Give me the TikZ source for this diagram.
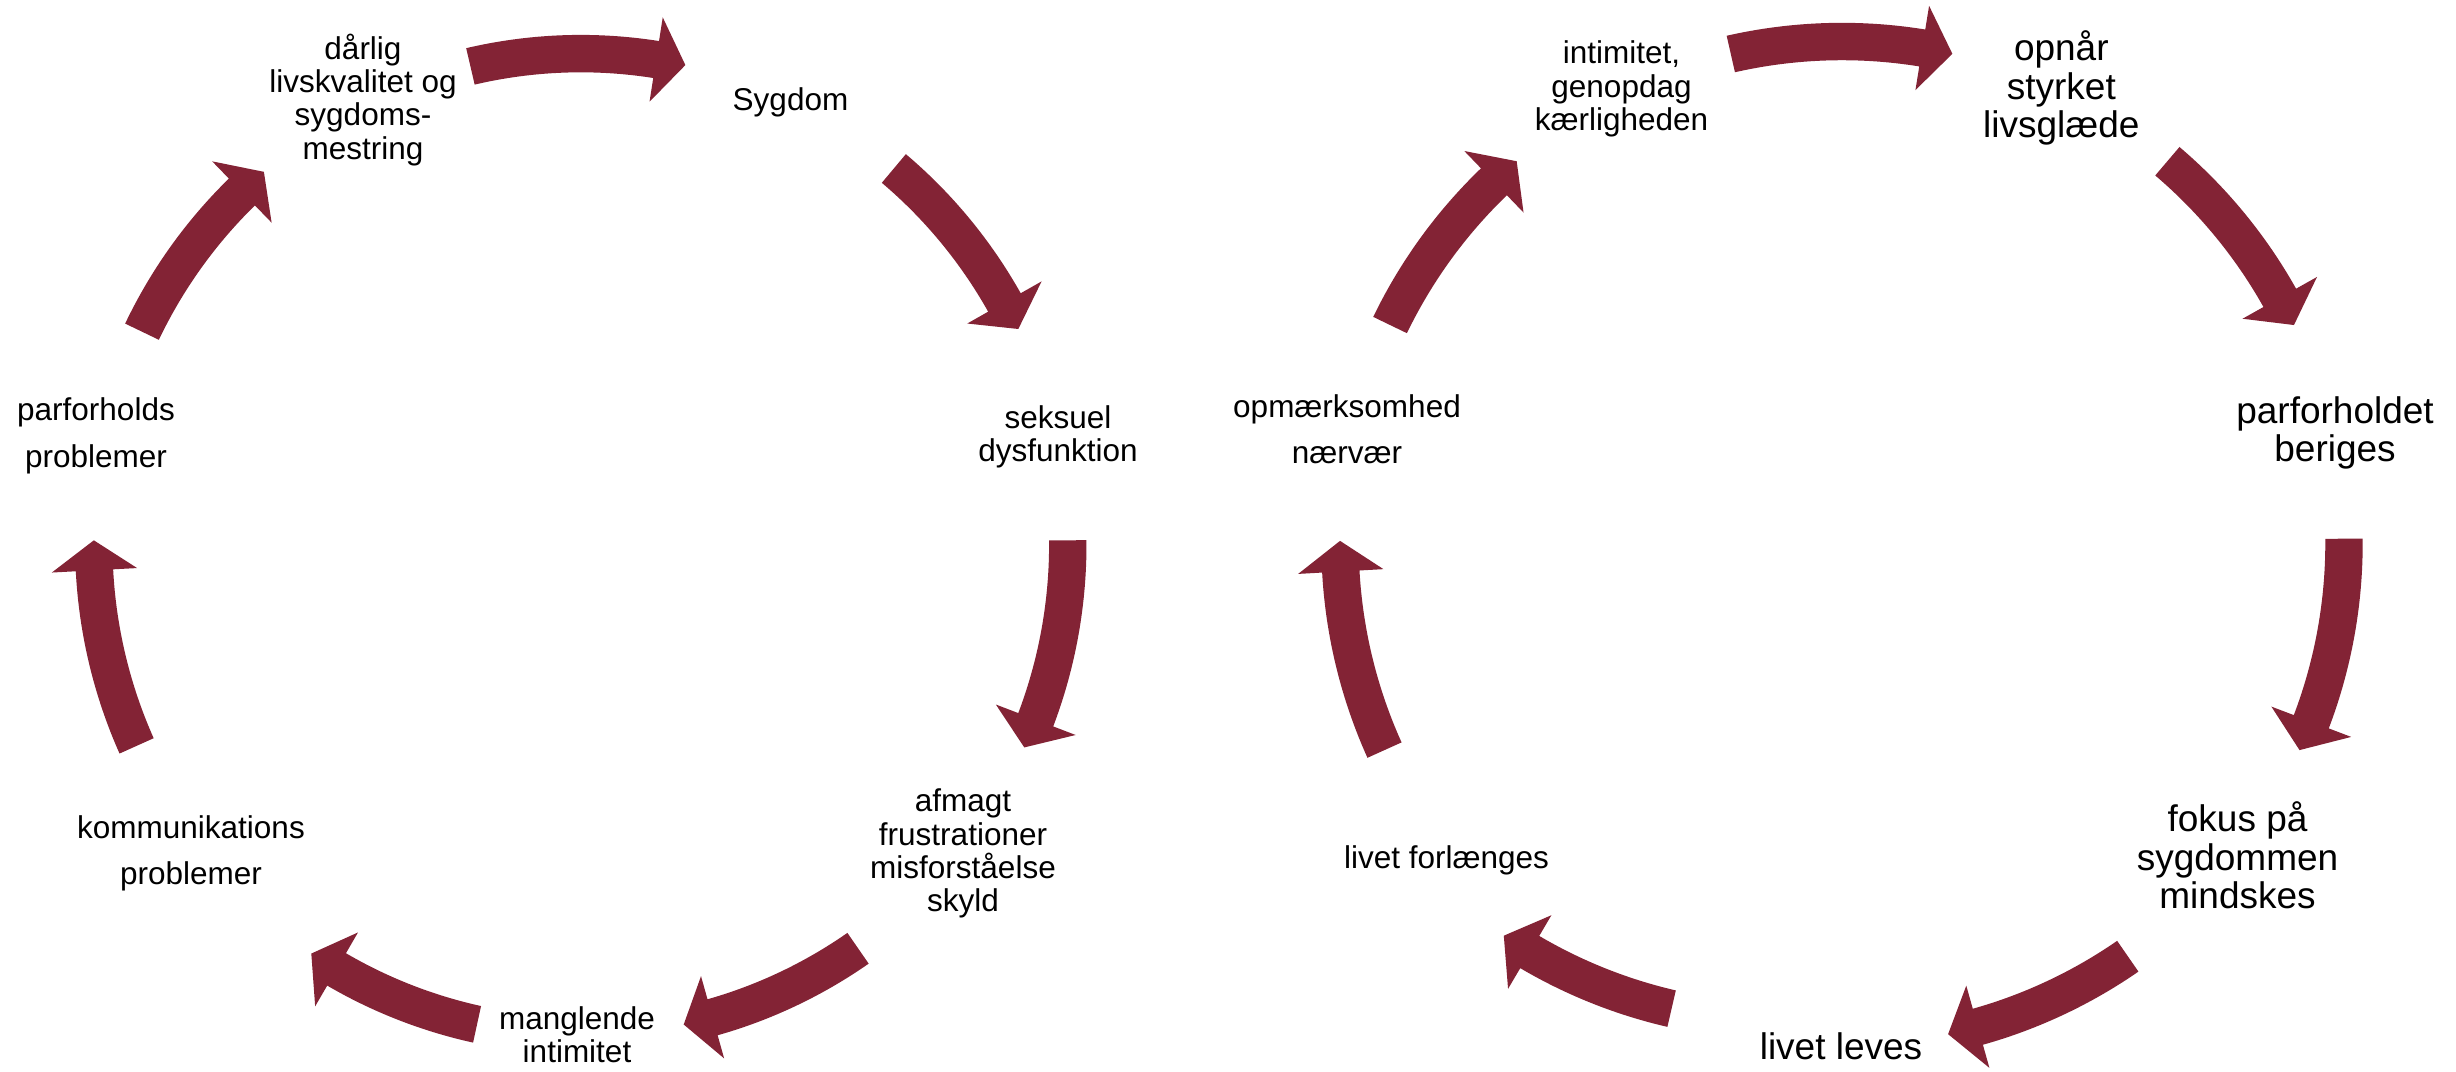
\documentclass[tikz,border=0pt]{standalone}
\usepackage{fontspec}
\setmainfont{Liberation Sans}
\definecolor{wine}{RGB}{131,35,53}
\newcommand{\bodyhw}{18.7}
\newcommand{\headhw}{42.7}
\newcommand{\headang}{3.5}
% #1 cx, #2 cy, #3 rx, #4 ry, #5 tail angle, #6 tip angle (clockwise)
\newcommand{\cycarrow}[6]{%
  \pgfmathsetmacro{\ha}{#6+\headang}%
  \pgfmathsetmacro{\rxo}{#3+\bodyhw}\pgfmathsetmacro{\ryo}{#4+\bodyhw}%
  \pgfmathsetmacro{\rxi}{#3-\bodyhw}\pgfmathsetmacro{\ryi}{#4-\bodyhw}%
  \pgfmathsetmacro{\rxh}{#3+\headhw}\pgfmathsetmacro{\ryh}{#4+\headhw}%
  \pgfmathsetmacro{\rxj}{#3-\headhw}\pgfmathsetmacro{\ryj}{#4-\headhw}%
  \fill[cyclearrow, shift={(#1,#2)}]
    (#5:{\rxo} and {\ryo})
    arc[start angle=#5, end angle=\ha, x radius=\rxo, y radius=\ryo]
    -- (\ha:{\rxh} and {\ryh})
    -- (#6:{#3} and {#4})
    -- (\ha:{\rxj} and {\ryj})
    -- (\ha:{\rxi} and {\ryi})
    arc[start angle=\ha, end angle=#5, x radius=\rxi, y radius=\ryi]
    -- cycle;%
}
% node anchor "base" = baseline of the LAST line
\tikzset{
  cyclearrow/.style={fill=wine},
  lblsmall/.style={font=\fontsize{31.5}{33.3}\selectfont, align=center, anchor=base, inner sep=0pt},
  lblwide/.style={font=\fontsize{31.5}{46.5}\selectfont, align=center, anchor=base, inner sep=0pt},
  lblbig/.style={font=\fontsize{37}{38.3}\selectfont, align=center, anchor=base, inner sep=0pt}
}
\begin{document}
\begin{tikzpicture}[x=1pt,y=1pt]
\fill[white] (0,0) rectangle (2456,-1071);
\useasboundingbox (0,0) rectangle (2456,-1071);

% ---------- left cycle ----------
\cycarrow{580.8}{-544.6}{487}{491}{103.1}{77.6}
\cycarrow{580.8}{-544.6}{487}{491}{50.0}{26.05}
\cycarrow{580.8}{-544.6}{487}{491}{0.5}{-24.4}
\cycarrow{580.8}{-544.6}{487}{491}{-55.3}{-77.8}
\cycarrow{580.8}{-544.6}{487}{491}{-102.3}{-123.6}
\cycarrow{580.8}{-544.6}{487}{491}{204.2}{179.5}
\cycarrow{580.8}{-544.6}{487}{491}{154.3}{130.6}

\node[lblsmall] (darlig) at (363,-159.2) {dårlig\\livskvalitet og\\sygdoms-\\mestring};
\node[lblsmall] (sygdom) at (790.5,-110) {Sygdom};
\node[lblsmall] (seksuel) at (1058,-461.3) {seksuel\\dysfunktion};
\node[lblsmall] (afmagt) at (963,-911.6) {afmagt\\frustrationer\\misforståelse\\skyld};
\node[lblsmall] (manglende) at (577,-1062.5) {manglende\\intimitet};
\node[lblwide] (kommunikation) at (191,-884.5) {kommunikations\\problemer};
\node[lblwide] (parforholds) at (96,-467) {parforholds\\problemer};

% ---------- right cycle ----------
\cycarrow{1842}{-543.5}{502}{502}{102.8}{77.3}
\cycarrow{1842}{-543.5}{502}{502}{49.6}{25.8}
\cycarrow{1842}{-543.5}{502}{502}{0.55}{-24.3}
\cycarrow{1842}{-543.5}{502}{502}{-55.3}{-77.8}
\cycarrow{1784.5}{-519.5}{502}{502}{-103}{-124}
\cycarrow{1842}{-543.5}{502}{502}{204.3}{179.7}
\cycarrow{1842}{-543.5}{502}{502}{154.2}{130.4}

\node[lblsmall] (intimitet) at (1621.5,-130.5) {intimitet,\\genopdag\\kærligheden};
\node[lblbig] (opnaar) at (2061.3,-137.3) {opnår\\styrket\\livsglæde};
\node[lblbig] (parforholdet) at (2335,-461.5) {parforholdet\\beriges};
\node[lblbig] (fokus) at (2237.5,-908.5) {fokus på\\sygdommen\\mindskes};
\node[lblbig] (leves) at (1841,-1059.6) {livet leves};
\node[lblsmall] (forlaenges) at (1446.5,-868.5) {livet forlænges};
\node[lblwide] (opmaerksomhed) at (1347,-463.5) {opmærksomhed\\nærvær};
\end{tikzpicture}
\end{document}
